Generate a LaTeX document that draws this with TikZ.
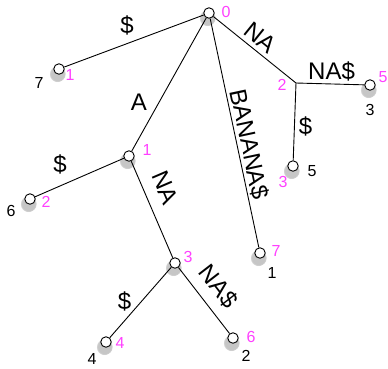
\documentclass[tikz,border=0pt]{standalone}
\usepackage{fontspec}
\setmainfont{Liberation Sans}
\usetikzlibrary{positioning, shadows}
\definecolor{idmagenta}{RGB}{255, 64, 255}

\begin{document}
\begin{tikzpicture}[
    x=1pt, y=-1pt,
    vert/.style={draw, circle, fill=white, inner sep=0pt, minimum size=10.5pt, line width=0.9pt,
        circular drop shadow={shadow xshift=-1pt, shadow yshift=-3pt, shadow scale=1.6, opacity=0.45}},
    edge/.style={line width=0.9pt},
    elabel/.style={font=\fontsize{24}{26}\selectfont, inner sep=1pt},
    idlabel/.style={font=\fontsize{16}{17}\selectfont, text=idmagenta, inner sep=0pt},
    poslabel/.style={font=\fontsize{16}{17}\selectfont, inner sep=0pt}
]
\useasboundingbox (0,0) rectangle (388,368);

% Root and inner vertices
\node[vert] (n0) at (209,13) {};
\node[vert] (n1) at (129,156) {};
\node[vert] (n3) at (175,263) {};
\coordinate (n2) at (296,83);

% Leaves
\node[vert] (l1) at (59,69) {};
\node[vert] (l2) at (30,199) {};
\node[vert] (l4) at (106,342) {};
\node[vert] (l6) at (233,338) {};
\node[vert] (l7) at (260,253) {};
\node[vert] (l5) at (370,85) {};
\node[vert] (l3) at (293,166) {};

% Edges
\draw[edge] (n0) -- node[elabel, pos=0.55, above=7pt] {\$} (l1);
\draw[edge] (n0) -- node[elabel, pos=0.63, left=11pt] {A} (n1);
\draw[edge] (n1) -- node[elabel, pos=0.72, above=10pt] {\$} (l2);
\draw[edge] (n1) -- node[elabel, pos=0.36, sloped, above=11pt] {NA} (n3);
\draw[edge] (n3) -- node[elabel, pos=0.48, left=9pt] {\$} (l4);
\draw[edge] (n3) -- node[elabel, pos=0.47, sloped, above=9pt] {NA\$} (l6);
\draw[edge] (n0) -- node[elabel, pos=0.56, sloped, above=1pt] {BANANA\$} (l7);
\draw[edge] (n0) -- node[elabel, pos=0.47, sloped, above=3pt] {NA} (n2);
\draw[edge] (n2) -- node[elabel, pos=0.52, above=1pt] {NA\$} (l5);
\draw[edge] (n2) -- node[elabel, pos=0.56, right=3pt] {\$} (l3);

% Vertex numbers
\node[idlabel] (i0) at ([shift={(17,-1)}]n0) {0};
\node[idlabel] (i1) at ([shift={(11,6)}]l1) {1};
\node[idlabel] (i2) at ([shift={(16,3)}]l2) {2};
\node[idlabel] (i1b) at ([shift={(18,-6)}]n1) {1};
\node[idlabel] (i3) at ([shift={(13,-6)}]n3) {3};
\node[idlabel] (i4) at ([shift={(14,1)}]l4) {4};
\node[idlabel] (i6) at ([shift={(18,-1)}]l6) {6};
\node[idlabel] (i7) at ([shift={(16,-2)}]l7) {7};
\node[idlabel] (i3b) at ([shift={(-10,16)}]l3) {3};
\node[idlabel] (i2b) at ([shift={(-14,2)}]n2) {2};
\node[idlabel] (i5) at ([shift={(13,-8)}]l5) {5};

% Suffix positions
\node[poslabel] (p7) at ([shift={(-20,14)}]l1) {7};
\node[poslabel] (p6) at ([shift={(-19,12)}]l2) {6};
\node[poslabel] (p4) at ([shift={(-14,17)}]l4) {4};
\node[poslabel] (p2) at ([shift={(13,18)}]l6) {2};
\node[poslabel] (p1) at ([shift={(12,20)}]l7) {1};
\node[poslabel] (p3) at ([shift={(0,25)}]l5) {3};
\node[poslabel] (p5) at ([shift={(19,5)}]l3) {5};

\end{tikzpicture}
\end{document}
